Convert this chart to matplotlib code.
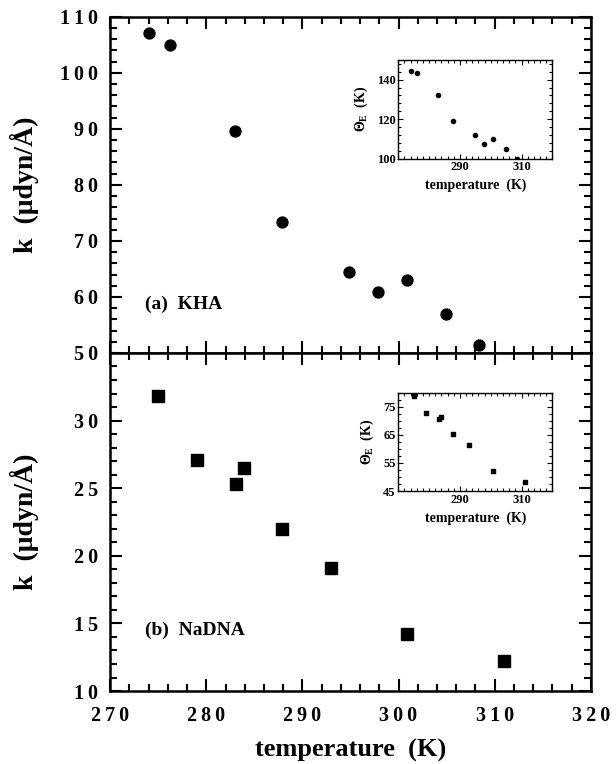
import matplotlib
matplotlib.use("Agg")
import matplotlib.pyplot as plt
from matplotlib.ticker import MultipleLocator, FixedLocator, FuncFormatter

# ---- data ----
kha_T = [274.0, 276.2, 283.0, 287.9, 294.8, 297.9, 300.9, 304.9, 308.4]
kha_k = [107.1, 105.0, 89.7, 73.3, 64.5, 60.9, 63.0, 56.9, 51.4]
kha_theta = [144.2, 143.2, 132.2, 119.0, 111.7, 107.6, 109.9, 104.8, 100.0]

dna_T = [275.0, 279.0, 283.1, 283.9, 287.9, 293.0, 300.9, 311.0]
dna_k = [31.8, 27.1, 25.3, 26.5, 22.0, 19.1, 14.2, 12.2]
dna_theta = [78.8, 72.6, 70.6, 71.5, 65.4, 61.3, 52.3, 48.1]

x_ticks = [270, 280, 290, 300, 310, 320]
top_yticks = [50, 60, 70, 80, 90, 100, 110]
bot_yticks = [10, 15, 20, 25, 30]

FONT = "Liberation Serif"
plt.rcParams["font.family"] = [FONT, "DejaVu Serif"]
plt.rcParams["font.weight"] = "bold"
plt.rcParams["mathtext.fontset"] = "custom"
plt.rcParams["mathtext.rm"] = FONT
plt.rcParams["mathtext.bf"] = FONT + ":bold"

fig = plt.figure(figsize=(6.16, 7.64), dpi=100)

L, R = 0.179, 0.959
top_top, mid, bot_bot = 0.978, 0.538, 0.0955
ax1 = fig.add_axes([L, mid, R - L, top_top - mid])
ax2 = fig.add_axes([L, bot_bot, R - L, mid - bot_bot])

spaced = FuncFormatter(lambda v, p: "\u2009".join(str(int(round(v)))))


def style_main(ax):
    for s in ax.spines.values():
        s.set_linewidth(1.8)
    ax.tick_params(which="both", direction="in", top=True, right=True, width=1.5)
    ax.tick_params(which="major", length=8.5, labelsize=14.5)
    ax.tick_params(which="minor", length=5)
    ax.tick_params(axis="y", pad=9)
    ax.tick_params(axis="x", pad=11)
    ax.set_xlim(270, 320)
    ax.xaxis.set_major_locator(FixedLocator(x_ticks))
    ax.xaxis.set_minor_locator(MultipleLocator(2))
    ax.xaxis.set_major_formatter(spaced)
    ax.yaxis.set_major_formatter(spaced)
    for lab in ax.get_xticklabels() + ax.get_yticklabels():
        lab.set_fontweight("bold")
    ax.set_ylabel("k  (μdyn/Å)", fontsize=20, fontweight="bold")
    ax.yaxis.label.set_va("center")
    ax.yaxis.set_label_coords(-0.178, 0.5)


# top panel
ax1.scatter(kha_T, kha_k, s=62, color="black", marker="o", zorder=3)
style_main(ax1)
ax1.set_ylim(50, 110)
ax1.yaxis.set_major_locator(FixedLocator(top_yticks))
ax1.yaxis.set_minor_locator(MultipleLocator(2))
ax1.tick_params(axis="x", labelbottom=False)
ax1.text(0.073, 0.145, "(a)  KHA", transform=ax1.transAxes, fontsize=14,
         fontweight="bold", va="center", ha="left")

# bottom panel
ax2.scatter(dna_T, dna_k, s=80, color="black", marker="s", zorder=3)
style_main(ax2)
ax2.set_ylim(10, 35)
ax2.yaxis.set_major_locator(FixedLocator(bot_yticks))
ax2.yaxis.set_minor_locator(MultipleLocator(1))
ax2.set_xlabel("temperature  (K)", fontsize=19, fontweight="bold")
ax2.xaxis.label.set_va("center")
ax2.xaxis.set_label_coords(0.5, -0.175)
ax2.text(0.073, 0.18, "(b)  NaDNA", transform=ax2.transAxes, fontsize=14,
         fontweight="bold", va="center", ha="left")


def style_inset(ax):
    for s in ax.spines.values():
        s.set_linewidth(1.0)
    ax.tick_params(which="both", direction="in", top=True, right=True, width=0.8,
                   labelsize=9, pad=2)
    ax.tick_params(which="major", length=3.5)
    ax.tick_params(which="minor", length=2)
    ax.set_xlim(270, 320)
    ax.xaxis.set_major_locator(FixedLocator([290, 310]))
    ax.xaxis.set_minor_locator(MultipleLocator(2))
    ax.set_xlabel("temperature  (K)", fontsize=10, fontweight="bold", labelpad=4)
    ax.set_ylabel(r"$\Theta_{\mathbf{E}}$  (K)", fontsize=10, fontweight="bold", labelpad=5)
    for lab in ax.get_xticklabels() + ax.get_yticklabels():
        lab.set_fontweight("bold")


in1 = fig.add_axes([0.6466, 0.7925, 0.25, 0.129])
in1.scatter(kha_T, kha_theta, s=9, color="black", zorder=3)
in1.set_ylim(100, 150)
in1.yaxis.set_major_locator(FixedLocator([100, 120, 140]))
in1.yaxis.set_minor_locator(MultipleLocator(4))
style_inset(in1)

in2 = fig.add_axes([0.6466, 0.3573, 0.25, 0.1287])
in2.scatter(dna_T, dna_theta, s=11, color="black", marker="s", zorder=3)
in2.set_ylim(45, 80)
in2.yaxis.set_major_locator(FixedLocator([45, 55, 65, 75]))
in2.yaxis.set_minor_locator(MultipleLocator(2.5))
style_inset(in2)

fig.savefig("out.png", dpi=100)
